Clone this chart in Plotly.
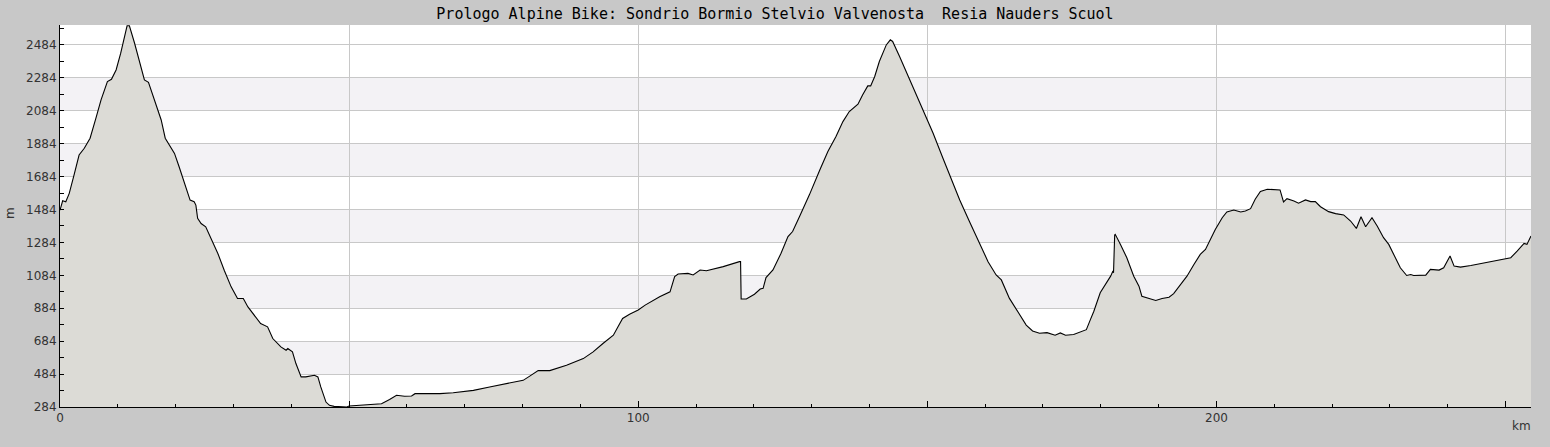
import plotly.graph_objects as go

title_text = "Prologo Alpine Bike: Sondrio Bormio Stelvio Valvenosta\u00a0\u00a0Resia Nauders Scuol"

km = [0, 0.46, 1.0, 1.6, 2.5, 3.3, 4.2, 5.2, 6.2, 7.1, 8.2, 8.9, 9.7, 10.5, 11.6, 12.0,
      12.9, 13.7, 14.6, 15.3, 16.3, 17.5, 18.2, 18.9, 19.8, 20.6, 21.5, 22.5, 23.2, 23.5,
      23.8, 24.4, 25.2, 26.1, 27.3, 28.4, 29.6, 30.7, 31.7, 32.5, 33.6, 34.7, 35.9, 36.8,
      38.2, 39.1, 39.4, 40.2, 40.8, 41.7, 42.5, 44.0, 44.6, 45.1, 46.0, 46.6, 47.4, 48.4,
      49.6, 50.0, 52.1, 54.2, 55.6, 57.0, 58.2, 59.6, 60.8, 61.4, 65.7, 68.0, 71.5, 74.3,
      77.2, 80.1, 81.3, 82.7, 84.7, 87.6, 90.5, 92.2, 93.9, 95.7, 96.5, 97.3, 98.5, 100.0,
      101.2, 102.6, 103.7, 105.5, 106.3, 106.9, 108.6, 109.5, 110.7, 111.8, 114.7, 117.5,
      117.7, 117.8, 118.7, 120.1, 121.1, 121.6, 122.1, 123.3, 124.7, 125.9, 126.7, 127.9,
      129.6, 131.4, 132.8, 134.2, 135.4, 136.5, 138.0, 138.8, 139.7, 140.2, 140.9, 141.7,
      142.9, 143.6, 144.0, 145.2, 146.6, 148.1, 149.5, 151.0, 152.7, 154.1, 155.6, 157.3,
      159.0, 160.5, 161.9, 162.8, 164.2, 165.6, 167.1, 168.2, 169.4, 170.7, 172.1, 173.0,
      173.9, 175.3, 176.5, 177.5, 178.2, 178.8, 179.9, 180.8, 181.7, 182.1, 182.2, 182.4,
      182.5, 183.4, 184.5, 185.7, 186.6, 187.1, 188.0, 189.5, 190.6, 191.8, 192.6, 193.8,
      194.9, 196.1, 197.2, 198.1, 199.0, 199.8, 201.0, 201.8, 203.0, 204.2, 205.0, 205.9,
      206.7, 207.6, 208.8, 211.0, 211.6, 212.2, 213.4, 214.2, 215.4, 216.3, 217.1, 218.0,
      219.4, 220.6, 222.0, 223.2, 224.2, 225.0, 225.8, 226.9, 227.8, 228.9, 229.8, 230.9,
      231.8, 232.9, 233.6, 234.1, 236.2, 237.0, 238.5, 239.3, 240.4, 241.1, 242.2, 244.0,
      245.7, 247.4, 249.1, 250.9, 252.0, 253.2, 253.7, 254.4]

elevation = [1480, 1537, 1531, 1582, 1704, 1815, 1856, 1917, 2038, 2150, 2261, 2275, 2332, 2434, 2600, 2600,
             2494, 2393, 2271, 2257, 2150, 2028, 1917, 1876, 1825, 1744, 1653, 1541, 1531, 1511,
             1430, 1399, 1379, 1308, 1217, 1115, 1014, 943, 943, 892, 842, 791, 771, 700,
             649, 629, 639, 619, 548, 467, 467, 477, 467, 406, 314, 294, 288, 285,
             284, 290, 294, 300, 304, 329, 355, 349, 351, 365, 365, 371, 385, 406,
             426, 446, 473, 505, 505, 538, 578, 619, 670, 720, 771, 822, 848, 873,
             903, 934, 954, 984, 1076, 1092, 1096, 1086, 1116, 1112, 1137, 1167,
             1167, 940, 940, 969, 1001, 1005, 1070, 1117, 1218, 1319, 1350, 1441,
             1573, 1724, 1836, 1927, 2018, 2079, 2124, 2180, 2235, 2235, 2292, 2383,
             2484, 2515, 2505, 2413, 2302, 2180, 2069, 1947, 1795, 1674, 1542, 1410,
             1279, 1167, 1086, 1056, 944, 863, 782, 746, 732, 736, 720, 734,
             720, 724, 740, 754, 815, 866, 978, 1028, 1079, 1110, 1100, 1329,
             1333, 1272, 1191, 1079, 1018, 957, 947, 931, 943, 951, 973, 1028,
             1079, 1150, 1211, 1241, 1302, 1363, 1434, 1469, 1481, 1469, 1475, 1489,
             1546, 1593, 1607, 1603, 1530, 1550, 1536, 1522, 1542, 1532, 1532, 1501,
             1471, 1459, 1451, 1414, 1369, 1440, 1379, 1434, 1384, 1313, 1272, 1191,
             1130, 1083, 1089, 1083, 1085, 1120, 1116, 1130, 1201, 1140, 1134, 1144,
             1156, 1170, 1180, 1191, 1231, 1278, 1272, 1323]

y_ticks = [284, 484, 684, 884, 1084, 1284, 1484, 1684, 1884, 2084, 2284, 2484]
y_minor = [384, 584, 784, 984, 1184, 1384, 1584, 1784, 1984, 2184, 2384, 2584]
x_ticks = [0, 50, 100, 150, 200, 250]
x_ticktext = ["0", "", "100", "", "200", ""]
x_minor = [v for v in range(10, 260, 10) if v % 50 != 0]

x_range = [0, 254.4]
y_range = [284, 2605]

fig = go.Figure()

# alternating horizontal bands
shapes = []
for i in range(len(y_ticks) - 1):
    if i % 2 == 1:
        shapes.append(dict(type="rect", xref="paper", yref="y", x0=0, x1=1,
                           y0=y_ticks[i], y1=y_ticks[i + 1], fillcolor="#f3f2f5",
                           line=dict(width=0), layer="below"))

fig.add_trace(go.Scatter(
    x=km, y=elevation, mode="lines", fill="tozeroy",
    fillcolor="#dcdbd6", line=dict(color="black", width=1.1, shape="linear"),
    hoverinfo="x+y", showlegend=False))

tickfont = dict(family="DejaVu Sans", size=12, color="#333333")

fig.update_layout(
    width=1550, height=447,
    paper_bgcolor="#c8c8c8", plot_bgcolor="white",
    margin=dict(l=60, r=19, t=25, b=40),
    title=dict(text=title_text, x=0.5, xanchor="center", y=1 - 14 / 447, yanchor="middle",
               font=dict(family="DejaVu Sans Mono", size=15, color="black")),
    shapes=shapes,
    xaxis=dict(range=x_range, tickmode="array", tickvals=x_ticks, ticktext=x_ticktext,
               ticks="inside", ticklen=6, tickcolor="black", tickwidth=1,
               showline=True, linecolor="black", linewidth=1,
               showgrid=True, gridcolor="#c8c8c8", gridwidth=1, zeroline=False,
               tickfont=tickfont,
               minor=dict(tickmode="array", tickvals=x_minor, ticks="inside", ticklen=3,
                          tickcolor="black", showgrid=False)),
    yaxis=dict(range=y_range, tickmode="array", tickvals=y_ticks,
               ticks="inside", ticklen=4, tickcolor="black", tickwidth=1,
               showline=True, linecolor="black", linewidth=1,
               showgrid=True, gridcolor="#c8c8c8", gridwidth=1, zeroline=False,
               tickfont=tickfont,
               minor=dict(tickmode="array", tickvals=y_minor, ticks="inside", ticklen=4,
                          tickcolor="black", showgrid=False)),
    annotations=[
        dict(text="m", xref="paper", yref="paper", x=-50 / 1471, y=0.508, showarrow=False,
             xanchor="center", yanchor="middle",
             textangle=-90, font=dict(family="DejaVu Sans", size=12, color="#333333")),
        dict(text="km", xref="paper", yref="paper", x=(1521 - 60) / 1471, y=(407 - 426) / 382,
             showarrow=False, xanchor="center", yanchor="middle",
             font=dict(family="DejaVu Sans", size=12, color="#333333")),
    ],
)

fig.write_html("out.html", config={"displayModeBar": False},
               post_script="document.body.style.margin='0';document.body.style.background='#c8c8c8';")
